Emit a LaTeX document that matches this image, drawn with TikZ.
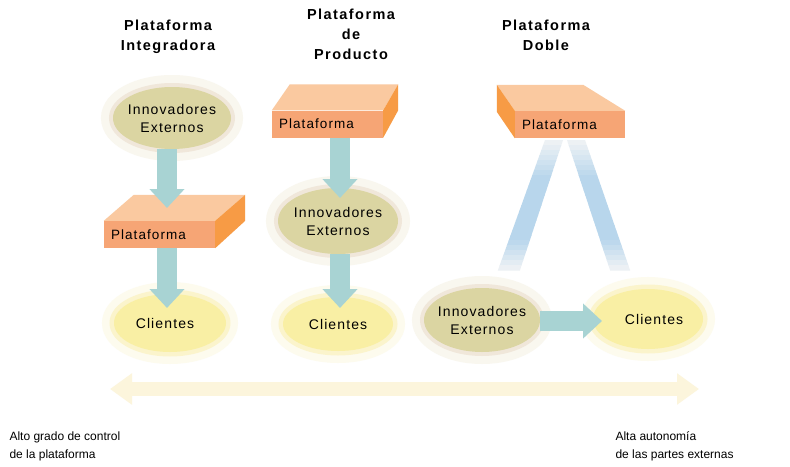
\documentclass[tikz,border=0pt]{standalone}
\usepackage{fontspec}
\setmainfont{Liberation Sans}
\newfontfamily\spacedfont[LetterSpace=8]{Liberation Sans}
\newfontfamily\titlefont[LetterSpace=10]{Liberation Sans}
\usetikzlibrary{arrows.meta,calc,shapes.geometric}
\definecolor{khaki}{HTML}{DBD5A2}
\definecolor{khakihalo}{HTML}{F0E7DA}
\definecolor{khakihalob}{HTML}{F9F7EF}
\definecolor{yel}{HTML}{F9EFA4}
\definecolor{yelhalo}{HTML}{FBF4CC}
\definecolor{yelhalob}{HTML}{FDFBEE}
\definecolor{arrowteal}{HTML}{A8D3D3}
\definecolor{pfront}{HTML}{F6A575}
\definecolor{ptop}{HTML}{FAC9A0}
\definecolor{pside}{HTML}{F79B45}
\definecolor{bandblue}{HTML}{B8D6EC}
\definecolor{bandlow}{HTML}{F1F3F5}
\definecolor{cream}{HTML}{FCF5DC}
\tikzset{
  blobtext/.style={ellipse, inner xsep=-12pt, inner ysep=-4pt, align=center, font=\spacedfont\fontsize{14}{18}\selectfont},
  innov/.style={blobtext, fill=khaki,
    preaction={draw=khakihalob, line width=24pt},
    preaction={draw=khakihalo, line width=8pt}},
  client/.style={blobtext, fill=yel,
    preaction={draw=yelhalob, line width=24pt},
    preaction={draw=yelhalo, line width=9pt}},
  pfrontbox/.style={rectangle, fill=pfront, inner xsep=7pt, inner ysep=0pt,
    minimum height=27pt, align=left, font=\spacedfont\fontsize{13.5}{16}\selectfont},
  fat/.style={draw=arrowteal, line width=20pt, -{Triangle[width=34pt,length=19pt]}},
  title/.style={align=center, font=\titlefont\bfseries\fontsize{14.5}{20}\selectfont},
  note/.style={anchor=west, align=left, font=\fontsize{12}{18}\selectfont}
}
\begin{document}
\begin{tikzpicture}[x=1pt,y=-1pt]
\useasboundingbox[fill=white] (0,0) rectangle (790,466);

% titles
\node[title] (t1) at (168,37) {Plataforma\\Integradora};
\node[title] (t2) at (351,34) {Plataforma\\de\\Producto};
\node[title] (t3) at (546,35) {Plataforma\\Doble};

% faded bands of the double platform
\foreach \k in {0,...,25}{
  \pgfmathsetmacro\ya{140+5*\k}
  \pgfmathsetmacro\yb{\ya+5.6}
  \pgfmathsetmacro\ym{\ya+2.5}
  \pgfmathsetmacro\p{100*max(0,min(1,min((\ym-140)/38,(270-\ym)/30)))}
  \pgfmathsetmacro\ta{(\ya-140)/130}
  \pgfmathsetmacro\tb{(\yb-140)/130}
  \fill[bandblue!\p!bandlow] ({545-47*\ta},\ya) -- ({563-43*\ta},\ya) -- ({563-43*\tb},\yb) -- ({545-47*\tb},\yb) -- cycle;
  \fill[bandblue!\p!bandlow] ({567+43*\ta},\ya) -- ({585+45*\ta},\ya) -- ({585+45*\tb},\yb) -- ({567+43*\tb},\yb) -- cycle;
}

% blobs
\node[innov, minimum width=118pt, minimum height=62pt] (i1) at (172,118) {Innovadores\\Externos};
\node[client, minimum width=112pt, minimum height=58pt] (c1) at (170,323) {\hspace*{-10pt}Clientes};
\node[innov, minimum width=120pt, minimum height=66pt] (i2) at (338,221) {Innovadores\\Externos};
\node[client, minimum width=110pt, minimum height=54pt] (c2) at (338,324) {Clientes};
\node[innov, minimum width=116pt, minimum height=64pt] (i3) at (482,320) {Innovadores\\Externos};
\node[client, minimum width=110pt, minimum height=60pt] (c3) at (648,319) {\hspace*{12pt}Clientes};

% platform boxes
\node[pfrontbox, text width=97pt] (p1) at (159.5,234.5) {Plataforma};
\fill[ptop] (p1.north west) -- ++(30,-26) -- ($(p1.north east)+(30,-26)$) -- (p1.north east) -- cycle;
\fill[pside] (p1.north east) -- ++(30,-26) -- ++(0,26) -- (p1.south east) -- cycle;

\node[pfrontbox, text width=97pt] (p2) at (327.5,124) {Plataforma};
\fill[ptop] (p2.north west) -- ++(18,-26) -- ($(p2.north east)+(15,-26)$) -- (p2.north east) -- cycle;
\fill[pside] (p2.north east) -- ++(15,-26) -- ++(0,26) -- (p2.south east) -- cycle;

\node[pfrontbox, text width=96pt] (p3) at (570,124.5) {Plataforma};
\fill[ptop] (p3.north west) -- ++(-18,-26) -- ($(p3.north east)+(-42,-26)$) -- (p3.north east) -- cycle;
\fill[pside] (p3.north west) -- ++(-18,-26) -- ++(0,27) -- (p3.south west) -- cycle;

% arrows
\coordinate (a1) at (167,208);
\coordinate (a2) at (167,308);
\coordinate (a3) at (340,198);
\coordinate (a4) at (340,308);
\coordinate (a5) at (602,321);
\draw[fat] (i1.south -| a1) -- (a1);
\draw[fat] (p1.south -| a2) -- (a2);
\draw[fat] (p2.south -| a3) -- (a3);
\draw[fat] (i2.south -| a4) -- (a4);
\draw[fat] (i3.east |- a5) -- (a5);

% bottom scale
\coordinate (ba) at (110,389);
\coordinate (bb) at (699,389);
\draw[cream, line width=14pt, {Triangle[width=30pt,length=22pt]}-{Triangle[width=30pt,length=22pt]}] (ba) -- (bb);
\node[note] (l1) at (6,446) {Alto grado de control\\de la plataforma};
\node[note] (l2) at (612,446) {Alta autonomía\\de las partes externas};
\end{tikzpicture}
\end{document}
